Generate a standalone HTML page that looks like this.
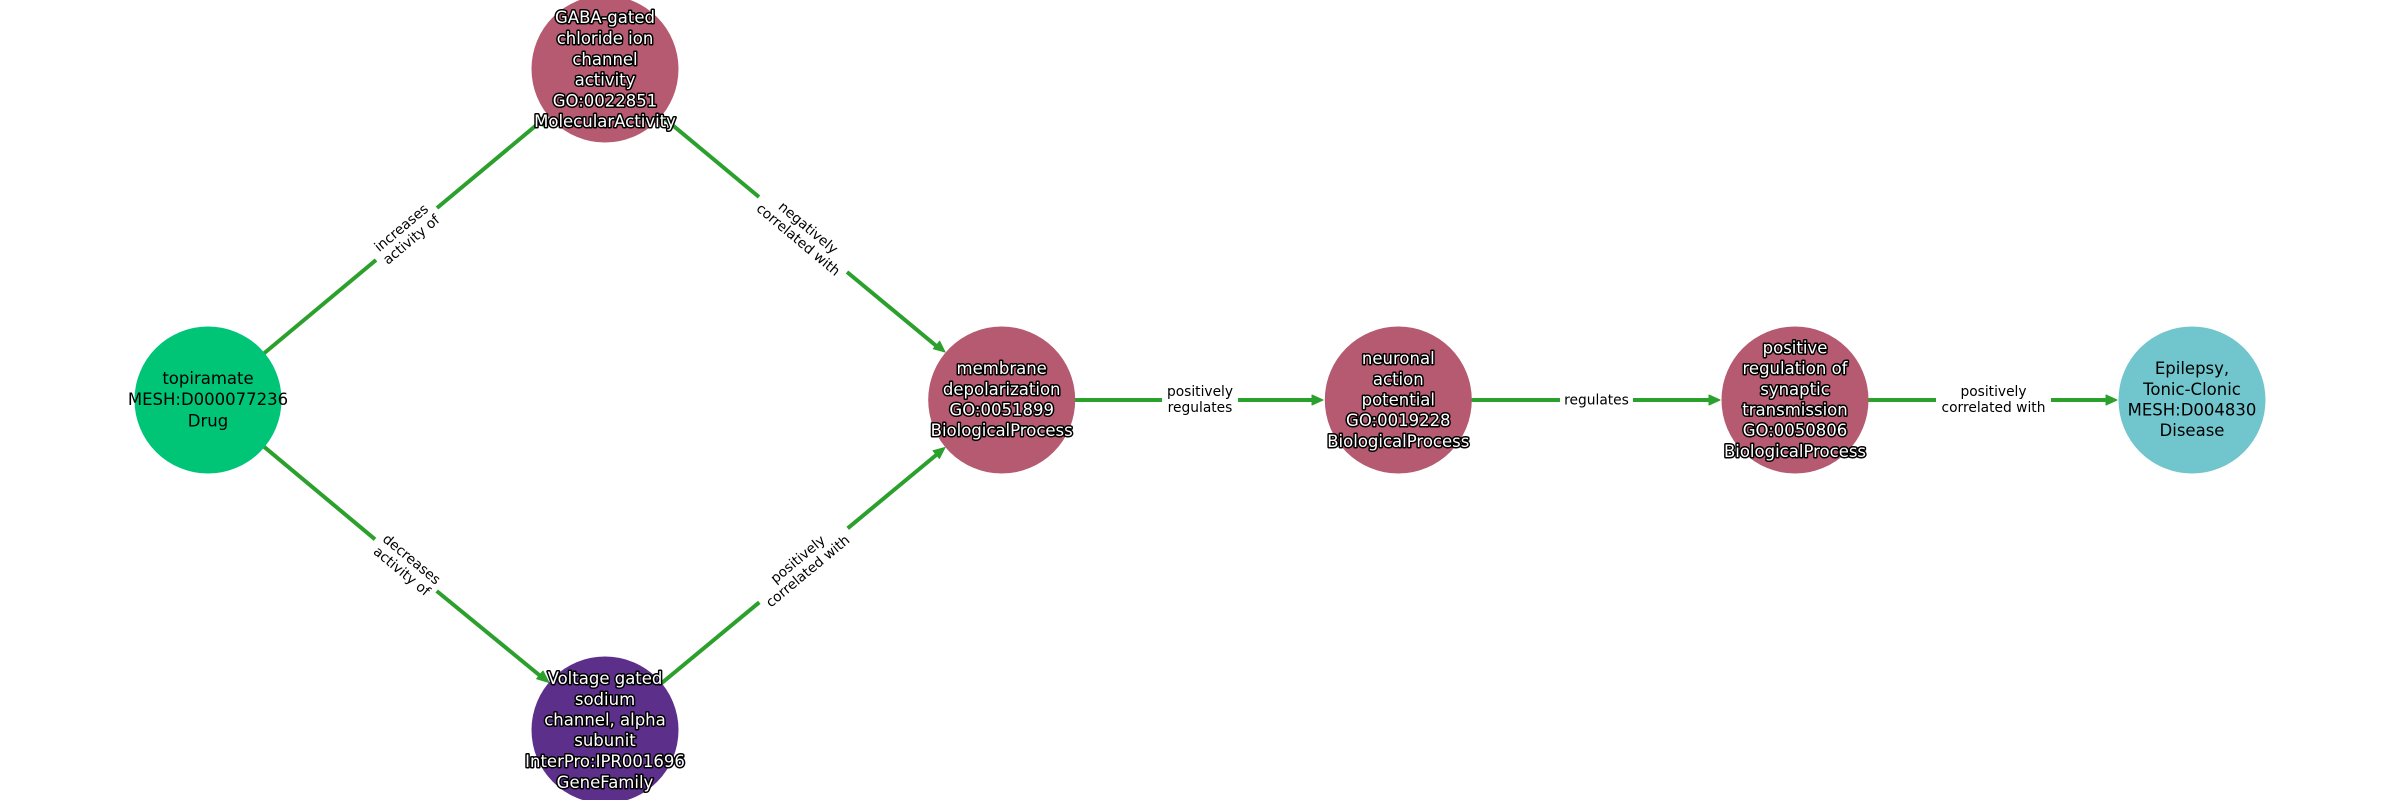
<!DOCTYPE html>
<html><head><meta charset="utf-8"><style>
html,body{margin:0;padding:0;background:#fff}
svg{display:block}
text{font-family:"DejaVu Sans",sans-serif;text-anchor:middle}
.n{font-size:16.5px}
.o{fill:#fff;stroke:#000;stroke-width:3px;paint-order:stroke;stroke-linejoin:round}
.e{font-size:13.8px;fill:#000}
.l{stroke:#2ca02c;stroke-width:4;fill:none}
.h{fill:#2ca02c;stroke:#2ca02c;stroke-width:1;stroke-linejoin:round}
</style></head><body>
<svg width="2400" height="800" viewBox="0 0 2400 800" xmlns="http://www.w3.org/2000/svg">
<rect width="2400" height="800" fill="#fff"/>
<g class="l">
<path d="M208 400L376 260M437 208L544 118.800"/>
<path d="M605 69L759 197M847 272L940 349"/>
<path d="M208 400L375 539.300M436.700 591L541 676.500"/>
<path d="M605 730L759.300 602.300M847.700 528.300L938 453.500"/>
<path d="M1002 400H1162M1238 400H1316"/>
<path d="M1398 400H1560M1633 400H1713"/>
<path d="M1795 400H1936M2051 400H2110"/>
</g>
<g class="h">
<polygon points="549,114.800 543,126.300 536.600,118.700"/>
<polygon points="945,352 939.700,341.200 933.300,348.800"/>
<polygon points="549,682.500 543,671 536.600,678.800"/>
<polygon points="945,447.500 939.400,458.500 933,450.700"/>
<polygon points="1323,400 1312,395 1312,405"/>
<polygon points="1720,400 1709,395 1709,405"/>
<polygon points="2117,400 2106,395 2106,405"/>
</g>
<circle cx="208" cy="400" r="73.500" fill="#00c476"/>
<circle cx="605" cy="69" r="73.500" fill="#b55a70"/>
<circle cx="605" cy="730" r="73.500" fill="#5c2f8a"/>
<circle cx="1001.700" cy="400" r="73.500" fill="#b55a70"/>
<circle cx="1398.300" cy="400" r="73.500" fill="#b55a70"/>
<circle cx="1795" cy="400" r="73.500" fill="#b55a70"/>
<circle cx="2192" cy="400" r="73.500" fill="#70c6cc"/>

<g class="n" fill="#000">
<text x="208" y="384">topiramate</text>
<text x="208" y="405">MESH:D000077236</text>
<text x="208" y="426.500">Drug</text>
<text x="2192" y="374">Epilepsy,</text>
<text x="2192" y="395">Tonic-Clonic</text>
<text x="2192" y="415.500">MESH:D004830</text>
<text x="2192" y="436">Disease</text>
</g>
<g class="n o">
<text x="605" y="23">GABA-gated</text>
<text x="605" y="44">chloride ion</text>
<text x="605" y="65">channel</text>
<text x="605" y="85.500">activity</text>
<text x="605" y="106.500">GO:0022851</text>
<text x="605" y="127">MolecularActivity</text>

<text x="605" y="684">Voltage gated</text>
<text x="605" y="705">sodium</text>
<text x="605" y="725.500">channel, alpha</text>
<text x="605" y="746">subunit</text>
<text x="605" y="767">InterPro:IPR001696</text>
<text x="605" y="788">GeneFamily</text>

<text x="1001.700" y="374">membrane</text>
<text x="1001.700" y="395">depolarization</text>
<text x="1001.700" y="415.500">GO:0051899</text>
<text x="1001.700" y="436">BiologicalProcess</text>

<text x="1398.300" y="364">neuronal</text>
<text x="1398.300" y="385">action</text>
<text x="1398.300" y="405.500">potential</text>
<text x="1398.300" y="426">GO:0019228</text>
<text x="1398.300" y="447">BiologicalProcess</text>

<text x="1795" y="353.500">positive</text>
<text x="1795" y="374">regulation of</text>
<text x="1795" y="395">synaptic</text>
<text x="1795" y="415.500">transmission</text>
<text x="1795" y="436">GO:0050806</text>
<text x="1795" y="457">BiologicalProcess</text>
</g>

<g class="e">
<g transform="translate(406.500 234) rotate(-39.900)"><text y="-3.500">increases</text><text y="12">activity of</text></g>
<g transform="translate(803 234) rotate(39.900)"><text y="-3.500">negatively</text><text y="12">correlated with</text></g>
<g transform="translate(406.500 565.500) rotate(39.700)"><text y="-3.500">decreases</text><text y="12">activity of</text></g>
<g transform="translate(803 565.500) rotate(-39.700)"><text y="-3.500">positively</text><text y="12">correlated with</text></g>
<text x="1200" y="396">positively</text><text x="1200" y="412">regulates</text>
<text x="1596.500" y="404.500">regulates</text>
<text x="1993.500" y="396">positively</text><text x="1993.500" y="412">correlated with</text>
</g>
</svg>
</body></html>
